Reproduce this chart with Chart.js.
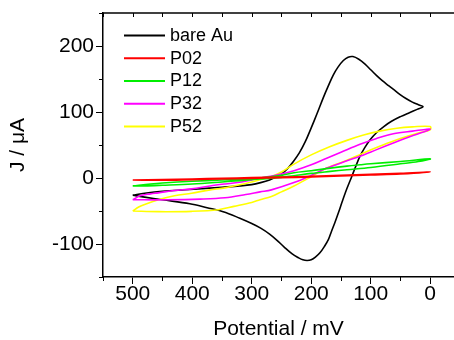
<!DOCTYPE html>
<html>
<head>
<meta charset="utf-8">
<script src="https://cdn.jsdelivr.net/npm/chart.js@4.4.1/dist/chart.umd.min.js"></script>
<style>
  html, body { margin: 0; padding: 0; background: #fff; }
  #cv { display: block; }
</style>
</head>
<body>
<canvas id="cv" width="454" height="340"></canvas>
<script>
// Cyclic voltammograms: potential (mV) and current (µA), one closed sweep per electrode.
const bareAuPotential = [500,480,450,404,350,320,300,285,270,260,250,240,230,220,210,200,190,180,172,163,155,146,138,130,120,110,100,90,80,70,60,50,40,30,20,12,
  22,35,50,65,78,90,101,110,118,125,132,140,148,154,160,166,171,178,185,193,200,207,214,222,232,245,258,270,285,300,320,348,375,404,450,480,500];
const bareAuCurrent = [-26,-23,-20,-17.5,-14,-12,-10,-7,-3,1,6,14,25,38,55,76,98,121,138,156,168,178,183,184,180,173,164,155,147,140,133,126,120,115,111,108,
  104,99,93,86,78,69,58,46,33,18,2,-16,-36,-52,-67,-81,-93,-104,-113,-120,-124,-125,-124,-120.5,-115,-105,-94,-85,-76,-69,-61,-51,-45,-39,-33,-29,-26];

const p02Potential = [500,450,400,350,300,250,200,150,100,50,0,50,100,150,200,250,300,350,400,450,500];
const p02Current = [-3,-2.5,-1.5,-0.5,0.5,1.5,2.5,4,5.5,7,9,6,4.5,3,1.5,0.5,-0.5,-1.5,-2.5,-3.5,-3];

const p12Potential = [500,470,450,400,350,300,286,250,229,200,168,140,118,100,50,0,20,50,100,140,168,200,229,260,286,320,350,400,450,480,500];
const p12Current = [-12,-9,-7.5,-5,-3,-1,0,4,8,11,15,18,20,21.5,25,29,25,21.5,16,12.5,10,7,3.5,0,-1.5,-4,-6,-9,-11,-12,-12];

const p32Potential = [500,488,470,457,430,401,370,345,317,300,286,260,229,200,174,150,118,90,62,30,0,
  30,62,90,118,140,174,200,229,267,286,310,345,387,443,500];
const p32Current = [-33,-27,-24,-22.5,-19,-16.5,-12,-9,-6,-3,0,4,11,20,30,39,51,60,67,71,74,
  64,53,43,33,26,15,4,-7,-18,-21,-25,-30,-32,-33,-33];

const p52Potential = [500,490,480,457,430,401,370,345,300,280,267,250,229,200,170,140,112,85,56,30,0,
  0,20,56,85,112,140,174,200,229,250,267,286,300,330,356,401,457,500];
const p52Current = [-50,-44,-40,-33,-27,-23,-18,-15,-6,-1,2,9,21,35,47,57,65,71,75.5,77.5,78,
  73,68,58,48,38,27,15,2,-12,-21,-28,-33,-37,-43,-48,-50.5,-51,-50];

const seriesLabels = ['bare Au', 'P02', 'P12', 'P32', 'P52'];
const seriesColors = ['#000000', '#ff0000', '#00ee00', '#ff00ff', '#ffff00'];
const seriesPotentials = [bareAuPotential, p02Potential, p12Potential, p32Potential, p52Potential];
const seriesCurrents = [bareAuCurrent, p02Current, p12Current, p32Current, p52Current];
const seriesDrawOrder = [5, 1, 2, 3, 4];

const xTickValues = [0, 100, 200, 300, 400, 500];
const xMinorTickValues = [50, 150, 250, 350, 450, 550];
const yTickValues = [-100, 0, 100, 200];
const yMinorTickValues = [-150, -50, 50, 150, 250];

const FONT = "'Liberation Sans', Arial, sans-serif";

const datasets = seriesLabels.map((label, i) => ({
  label,
  data: seriesPotentials[i].map((x, k) => ({ x, y: seriesCurrents[i][k] })),
  borderColor: seriesColors[i],
  backgroundColor: seriesColors[i],
  borderWidth: 1.6,
  showLine: true,
  pointRadius: 0,
  tension: 0.35,
  fill: false,
  order: seriesDrawOrder[i]
}));

// Minor ticks, mirrored top frame and the in-plot legend.
const framePlugin = {
  id: 'frame',
  afterDraw(chart) {
    const { ctx, chartArea: a, scales: { x, y } } = chart;
    ctx.save();
    ctx.strokeStyle = '#000';
    ctx.lineWidth = 1.5;
    ctx.beginPath();
    ctx.moveTo(a.left, a.top);
    ctx.lineTo(a.right, a.top);
    ctx.stroke();
    ctx.lineWidth = 1;
    ctx.beginPath();
    xMinorTickValues.forEach(v => {
      const px = Math.round(x.getPixelForValue(v)) + 0.5;
      ctx.moveTo(px, a.bottom); ctx.lineTo(px, a.bottom + 4);
    });
    xTickValues.concat(xMinorTickValues).forEach(v => {
      const px = Math.round(x.getPixelForValue(v)) + 0.5;
      ctx.moveTo(px, a.top); ctx.lineTo(px, a.top + 4);
    });
    yMinorTickValues.forEach(v => {
      const py = Math.round(y.getPixelForValue(v)) + 0.5;
      ctx.moveTo(a.left, py); ctx.lineTo(a.left - 4, py);
    });
    ctx.stroke();

    // legend
    ctx.font = '18px ' + FONT;
    ctx.textBaseline = 'middle';
    ctx.textAlign = 'left';
    chart.data.datasets.forEach((ds, i) => {
      const ly = a.top + 22.5 + i * 22.75;
      ctx.strokeStyle = ds.borderColor;
      ctx.lineWidth = 1.8;
      ctx.beginPath();
      ctx.moveTo(a.left + 21, ly);
      ctx.lineTo(a.left + 62, ly);
      ctx.stroke();
      ctx.fillStyle = '#000';
      ctx.fillText(ds.label, a.left + 67, ly + 0.5);
    });
    ctx.restore();
  }
};

new Chart(document.getElementById('cv'), {
  type: 'scatter',
  data: { datasets },
  plugins: [framePlugin],
  options: {
    responsive: false,
    animation: false,
    layout: { padding: { top: 13, right: 0, bottom: 0, left: 0 } },
    plugins: { legend: { display: false }, tooltip: { enabled: false } },
    scales: {
      x: {
        type: 'linear',
        reverse: true,
        min: -40,
        max: 550,
        afterBuildTicks: s => { s.ticks = xTickValues.map(v => ({ value: v })); },
        afterFit: s => { s.height = 63; },
        grid: { drawOnChartArea: false, drawTicks: true, tickLength: 7, color: '#000', lineWidth: 1 },
        border: { color: '#000', width: 1.5 },
        ticks: { color: '#000', font: { family: FONT, size: 21, lineHeight: 1 }, padding: 0, maxRotation: 0, autoSkip: false },
        title: { display: true, text: 'Potential / mV', color: '#000', font: { family: FONT, size: 21, lineHeight: 1 }, padding: { top: 0, bottom: 0 } }
      },
      y: {
        type: 'linear',
        min: -150,
        max: 250,
        afterBuildTicks: s => { s.ticks = yTickValues.map(v => ({ value: v })); },
        afterFit: s => { s.width = 103; },
        grid: { drawOnChartArea: false, drawTicks: true, tickLength: 7, color: '#000', lineWidth: 1 },
        border: { color: '#000', width: 1.5 },
        ticks: { color: '#000', font: { family: FONT, size: 21, lineHeight: 1 }, padding: 2, autoSkip: false },
        title: { display: true, text: 'J / μA', color: '#000', font: { family: FONT, size: 21, lineHeight: 1 }, padding: { top: 7.5, bottom: 0 } }
      }
    }
  }
});
</script>
</body>
</html>
